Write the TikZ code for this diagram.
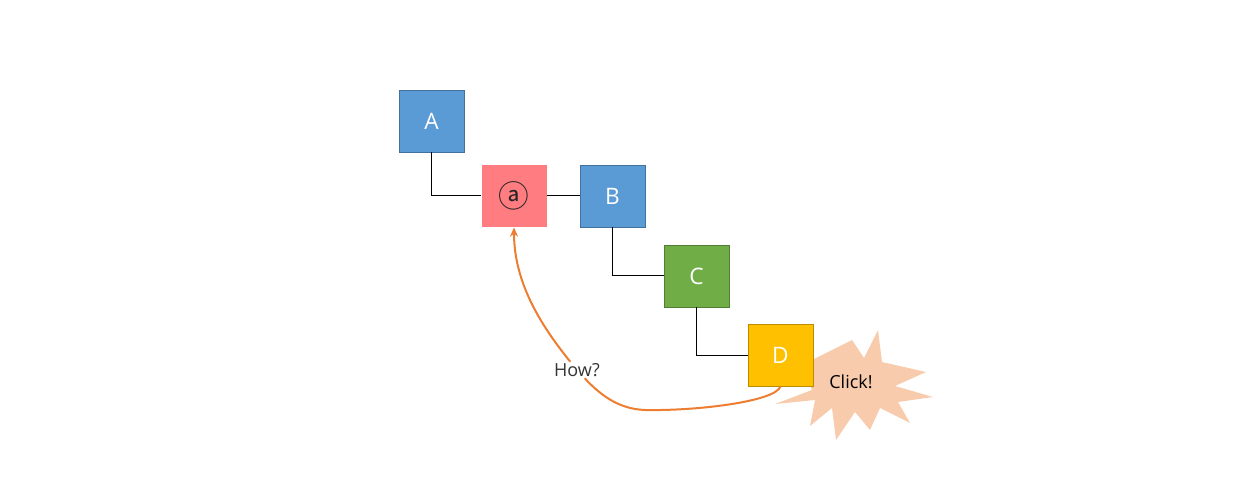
\documentclass[tikz,border=0pt]{standalone}
\usepackage{fontspec}
\setmainfont{Open Sans}
\newfontfamily\symfont{Noto Sans CJK SC}
\usepackage{tikz}
\usetikzlibrary{arrows.meta}

\definecolor{boxblue}{HTML}{5B9BD5}
\definecolor{boxblueline}{HTML}{41719C}
\definecolor{boxred}{HTML}{FF7C80}
\definecolor{boxgreen}{HTML}{70AD47}
\definecolor{boxgreenline}{HTML}{507E32}
\definecolor{boxyellow}{HTML}{FFC000}
\definecolor{boxyellowline}{HTML}{BC8C00}
\definecolor{burst}{HTML}{F8CBAD}
\definecolor{howorange}{HTML}{ED7D31}

\begin{document}
\begin{tikzpicture}[
      x=0.75pt, y=-0.75pt,
      box/.style={rectangle, inner sep=0pt, minimum width=48.75pt, minimum height=46.5pt,
        line width=0.6pt, text=white, font=\fontsize{17}{20}\selectfont},
      link/.style={line width=0.75pt, black},
      howline/.style={line width=1.5pt, howorange},
      note/.style={inner sep=1pt, font=\fontsize{13.5}{16}\selectfont}
    ]
    \useasboundingbox (0,0) rectangle (1235,502);
    % burst behind D
    \fill[burst] (775,404) -- (812,390) -- (790,335) -- (812,360) -- (852,340)
      -- (864,358) -- (878,330) -- (882,362) -- (926,372) -- (895,386)
      -- (933,397) -- (898,402) -- (910,423) -- (880,408) -- (870,430)
      -- (855,412) -- (836,440) -- (832,408) -- (810,426) -- (815,400) -- cycle;
    \node[note, text=black] (click) at (851,382) {Click!};
    \node[box, fill=boxblue, draw=boxblueline] (abox) at (431.5,121) {A};
    \node[box, fill=boxred, text=black!85, font=\symfont\fontsize{23}{26}\selectfont] (atbox) at (514,196) {ⓐ};
    \node[box, fill=boxblue, draw=boxblueline] (bbox) at (612.5,196) {B};
    \node[box, fill=boxgreen, draw=boxgreenline] (cbox) at (696.5,276) {C};
    \node[box, fill=boxyellow, draw=boxyellowline] (dbox) at (780.5,355) {D};
    \draw[link] (abox.south) |- (atbox.west);
    \draw[link] (atbox.east) -- (bbox.west);
    \draw[link] (bbox.south) |- (cbox.west);
    \draw[link] (cbox.south) |- (dbox.west);
    \node[note, text=black!80] (how) at (577,370) {How?};
    \draw[howline] (dbox.south) .. controls (776,401) and (700,411) .. (645,410)
      .. controls (622,409) and (604,399) .. (how);
    \draw[howline, -{Stealth[length=7pt, width=6pt]}] (how)
      .. controls (538,322) and (514,280) .. (atbox.south);
    \end{tikzpicture}
\end{document}
